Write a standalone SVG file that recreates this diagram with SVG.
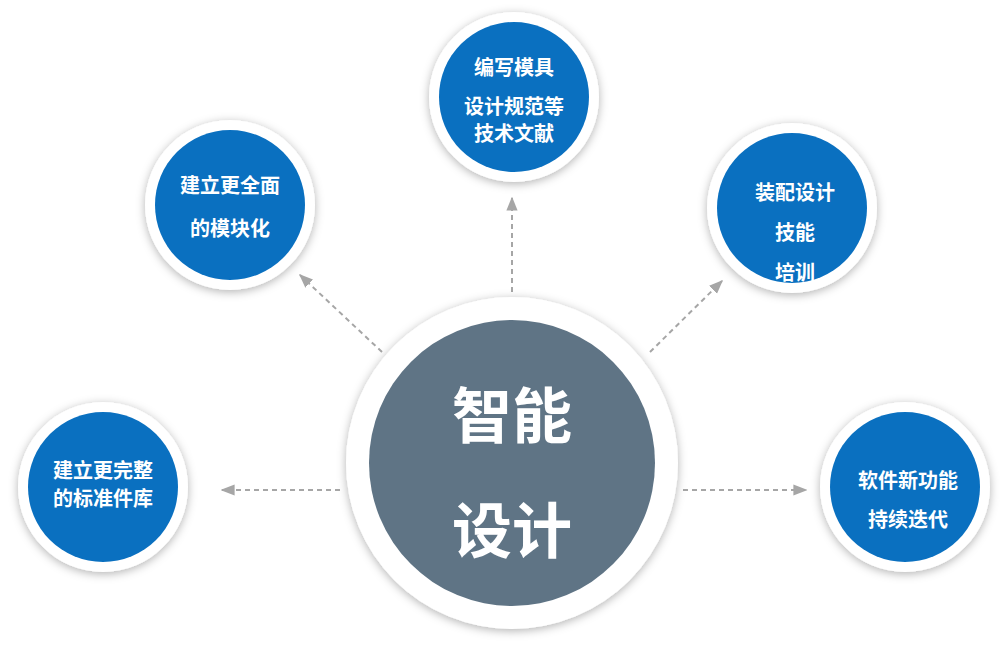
<svg xmlns="http://www.w3.org/2000/svg" width="1001" height="650" viewBox="0 0 1001 650">
<defs>
<filter id="sh" x="-30%" y="-30%" width="160%" height="160%"><feDropShadow dx="0" dy="2" stdDeviation="5" flood-color="#000" flood-opacity="0.3"/></filter>
<marker id="ar" viewBox="0 0 10 10" refX="9" refY="5" markerWidth="7" markerHeight="7" orient="auto"><path d="M0,1 L10,5 L0,9 Z" fill="#a6a6a6"/></marker>
<style>
.ring{fill:#fff;filter:url(#sh)}
.blue{fill:#0a70c0}
.t{fill:#fff;font-family:"Noto Sans CJK SC",sans-serif;font-weight:bold;font-size:20px;text-anchor:middle}
.big{fill:#fff;font-family:"Noto Sans CJK SC",sans-serif;font-weight:bold;font-size:60px;text-anchor:middle}
.c{stroke:#a6a6a6;stroke-width:2;stroke-dasharray:5,4;fill:none;marker-end:url(#ar)}
</style>
</defs>
<rect width="1001" height="650" fill="#fff"/>
<g id="connectors">
<line class="c" x1="512" y1="292" x2="512" y2="198"/>
<line class="c" x1="382" y1="352" x2="300" y2="275"/>
<line class="c" x1="650" y1="352" x2="722" y2="281"/>
<line class="c" x1="340" y1="490" x2="222" y2="490"/>
<line class="c" x1="683" y1="490" x2="806" y2="490"/>
</g>
<g id="center"><circle class="ring" cx="512" cy="463" r="166"/><circle cx="512" cy="463" r="143" fill="#5f7485"/>
<text class="big" x="512" y="438">智能</text><text class="big" x="512" y="553">设计</text></g>
<g id="n1"><circle class="ring" cx="514" cy="97" r="85"/><circle class="blue" cx="514" cy="97" r="75"/>
<text class="t" x="514" y="75">编写模具</text><text class="t" x="514" y="114">设计规范等</text><text class="t" x="514" y="141">技术文献</text></g>
<g id="n2"><circle class="ring" cx="230" cy="205" r="85"/><circle class="blue" cx="230" cy="205" r="75"/>
<text class="t" x="230" y="193">建立更全面</text><text class="t" x="230" y="236">的模块化</text></g>
<g id="n3"><circle class="ring" cx="792" cy="208" r="85"/><circle class="blue" cx="792" cy="208" r="75"/>
<text class="t" x="795" y="200">装配设计</text><text class="t" x="795" y="240">技能</text><text class="t" x="795" y="280">培训</text></g>
<g id="n4"><circle class="ring" cx="103" cy="487" r="85"/><circle class="blue" cx="103" cy="487" r="75"/>
<text class="t" x="103" y="478">建立更完整</text><text class="t" x="103" y="506">的标准件库</text></g>
<g id="n5"><circle class="ring" cx="905" cy="487" r="85"/><circle class="blue" cx="905" cy="487" r="75"/>
<text class="t" x="908" y="488">软件新功能</text><text class="t" x="908" y="527">持续迭代</text></g>
</svg>
